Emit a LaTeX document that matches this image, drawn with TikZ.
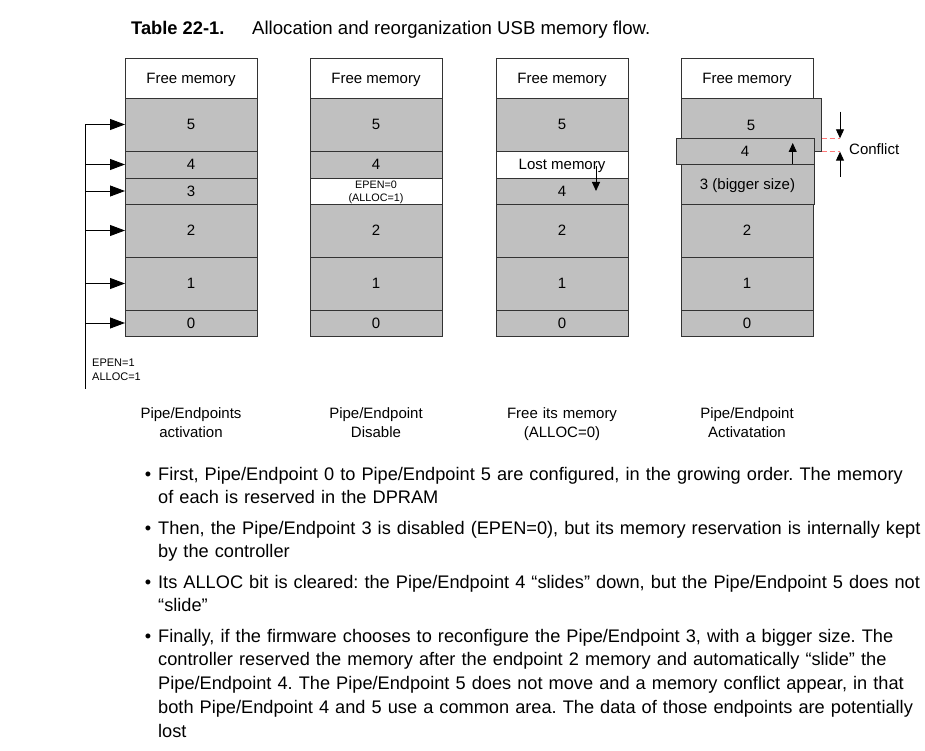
\documentclass[tikz,border=0pt]{standalone}
\usepackage{fontspec}
\setmainfont{Liberation Sans}
\usetikzlibrary{arrows.meta}
\definecolor{memgray}{RGB}{192,192,192}
\definecolor{conflictred}{RGB}{255,120,120}
\frenchspacing
\begin{document}
\begin{tikzpicture}[x=1pt,y=-1pt,
  cell/.style={draw=black!80, line width=0.9pt, fill=memgray, rectangle, inner sep=0pt, outer sep=0pt,
    minimum width=132pt, text depth=0pt, font=\fontsize{15}{18}\selectfont},
  freecell/.style={cell, fill=white},
  feed/.style={line width=0.9pt, -{Triangle[length=15pt,width=11pt]}},
  smallarrow/.style={line width=0.9pt, -{Triangle[length=9pt,width=8pt]}},
  dashred/.style={draw=conflictred, line width=0.9pt, dash pattern=on 5pt off 3pt},
  caption/.style={anchor=base, text width=160pt, align=center, font=\fontsize{15}{19}\selectfont},
  bullettext/.style={anchor=base west, text width=800pt, align=left, font=\fontsize{18.2}{23.8}\selectfont\frenchspacing}
]
\path[use as bounding box] (0,0) rectangle (925,751);

% title
\node[anchor=base west, inner sep=0pt, font=\fontsize{18.3}{22}\selectfont\bfseries] (ttl) at (131,34.5) {Table 22-1.};
\node[anchor=base west, inner sep=0pt, font=\fontsize{18.6}{22}\selectfont] (ttl2) at (252,34.5) {Allocation and reorganization USB memory flow.};

% column 1
\node[freecell, minimum height=40pt] (c1f) at (191,78) {Free memory};
\node[cell, minimum height=53pt] (c15) at (191,124.5) {5};
\node[cell, minimum height=27pt] (c14) at (191,164.5) {4};
\node[cell, minimum height=26pt] (c13) at (191,191) {3};
\node[cell, minimum height=53pt] (c12) at (191,230.5) {2};
\node[cell, minimum height=53pt] (c11) at (191,283.5) {1};
\node[cell, minimum height=26pt] (c10) at (191,323) {0};

% column 2
\node[freecell, minimum height=40pt] (c2f) at (376,78) {Free memory};
\node[cell, minimum height=53pt] (c25) at (376,124.5) {5};
\node[cell, minimum height=27pt] (c24) at (376,164.5) {4};
\node[freecell, minimum height=26pt, align=center, font=\fontsize{10.8}{12.8}\selectfont] (c23) at (376,191) {EPEN=0\\(ALLOC=1)};
\node[cell, minimum height=53pt] (c22) at (376,230.5) {2};
\node[cell, minimum height=53pt] (c21) at (376,283.5) {1};
\node[cell, minimum height=26pt] (c20) at (376,323) {0};

% column 3
\node[freecell, minimum height=40pt] (c3f) at (562,78) {Free memory};
\node[cell, minimum height=53pt] (c35) at (562,124.5) {5};
\node[freecell, minimum height=27pt] (c3l) at (562,164.5) {Lost memory};
\node[cell, minimum height=26pt] (c34) at (562,191) {4};
\node[cell, minimum height=53pt] (c32) at (562,230.5) {2};
\node[cell, minimum height=53pt] (c31) at (562,283.5) {1};
\node[cell, minimum height=26pt] (c30) at (562,323) {0};

% column 4
\node[freecell, minimum height=40pt] (c4f) at (747,78) {Free memory};
\node[cell, minimum width=140pt, minimum height=53.7pt] (c45) at (751,124.85) {5};
\node[cell, minimum width=138pt, minimum height=26pt] (c44) at (745,151.2) {4};
\node[cell, minimum width=133pt, minimum height=40pt] (c43) at (747.5,184.2) {3 (bigger size)};
\node[cell, minimum height=53pt] (c42) at (747,230.5) {2};
\node[cell, minimum height=53pt] (c41) at (747,283.5) {1};
\node[cell, minimum height=26pt] (c40) at (747,323) {0};

% activation bus
\coordinate (busT) at (85.3,124.5);
\coordinate (busB) at (85.3,389);
\draw[line width=0.9pt] (busT) -- (busB);
\foreach \c in {c15,c14,c13,c12,c11,c10}{
  \draw[feed] (busT |- \c.west) -- (\c.west);
}
\node[anchor=base west, inner sep=0pt, text width=60pt, align=left, font=\fontsize{11}{14}\selectfont] (epen1) at (92,366) {EPEN=1\\ALLOC=1};

% slide arrows
\coordinate (lmA) at (596,166);
\coordinate (lmB) at (596,191);
\draw[smallarrow] (lmA) -- (lmB);
\coordinate (slB) at (792.7,164);
\coordinate (slT) at (792.7,143);
\draw[smallarrow] (slB) -- (slT);

% conflict markers
\coordinate (dA1) at (821.7,138.3);
\coordinate (dA2) at (840,138.3);
\coordinate (dB1) at (821.7,151.7);
\coordinate (dB2) at (840,151.7);
\draw[dashred] (dA1) -- (dA2);
\draw[dashred] (dB1) -- (dB2);
\coordinate (cfT) at (840,111.7);
\coordinate (cfB) at (840,177);
\draw[smallarrow] (cfT) -- (dA2);
\draw[smallarrow] (cfB) -- (dB2);
\node[anchor=west, inner sep=0pt, font=\fontsize{15}{18}\selectfont] (cfl) at (849,149) {Conflict};

% captions
\node[caption] (cap1) at (191,418.5) {Pipe/Endpoints\\activation};
\node[caption] (cap2) at (376,418.5) {Pipe/Endpoint\\Disable};
\node[caption] (cap3) at (562,418.5) {Free its memory\\(ALLOC=0)};
\node[caption] (cap4) at (747,418.5) {Pipe/Endpoint\\Activatation};

% bullets
\node[bullettext, inner sep=0pt] (b1) at (158,480) {\llap{•\hspace{7pt}}First, Pipe/Endpoint 0 to Pipe/Endpoint 5 are configured, in the growing order. The memory\\of each is reserved in the DPRAM};
\node[bullettext, inner sep=0pt] (b2) at (158,534) {\llap{•\hspace{7pt}}Then, the Pipe/Endpoint 3 is disabled (EPEN=0), but its memory reservation is internally kept\\by the controller};
\node[bullettext, inner sep=0pt] (b3) at (158,588) {\llap{•\hspace{7pt}}Its ALLOC bit is cleared: the Pipe/Endpoint 4 “slides” down, but the Pipe/Endpoint 5 does not\\“slide”};
\node[bullettext, inner sep=0pt] (b4) at (158,642) {\llap{•\hspace{7pt}}Finally, if the firmware chooses to reconfigure the Pipe/Endpoint 3, with a bigger size. The\\controller reserved the memory after the endpoint 2 memory and automatically “slide” the\\Pipe/Endpoint 4. The Pipe/Endpoint 5 does not move and a memory conflict appear, in that\\both Pipe/Endpoint 4 and 5 use a common area. The data of those endpoints are potentially\\lost};
\end{tikzpicture}
\end{document}
